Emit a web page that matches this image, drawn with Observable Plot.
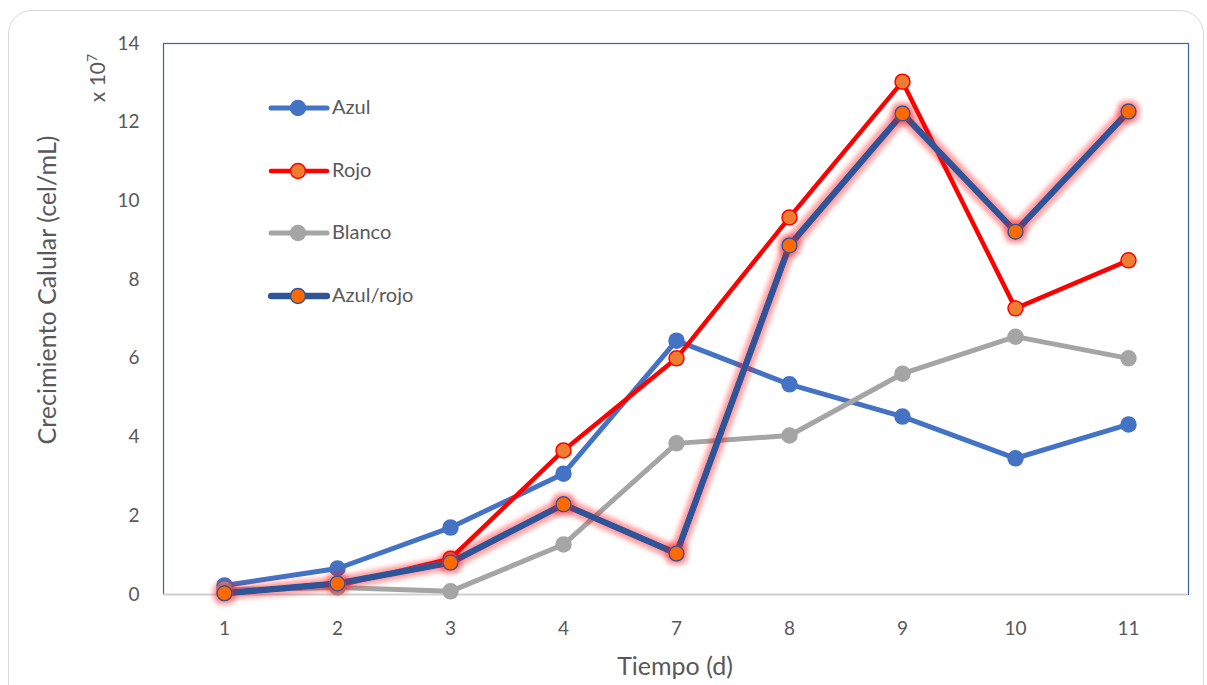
<!DOCTYPE html>
<html><head><meta charset="utf-8">
<script src="https://cdn.jsdelivr.net/npm/d3@7"></script>
<script src="https://cdn.jsdelivr.net/npm/@observablehq/plot@0.6"></script>
<style>
body{margin:0;background:#fff;font-family:Lato,"Open Sans",sans-serif;}
#wrap{position:relative;width:1207px;height:685px;overflow:hidden;}
#border{position:absolute;left:8px;top:10px;width:1196px;height:700px;border:1.5px solid #d9d9d9;border-radius:24px;box-sizing:border-box;}
.rot{position:absolute;transform:translate(-50%,-50%) rotate(-90deg);color:#595959;white-space:nowrap;}
#exp{left:96px;top:78px;font-size:21px;}
#ytitle{left:46px;top:290px;font-size:25px;}
#xtitle{position:absolute;left:675px;top:665px;transform:translate(-50%,-50%);font-size:25px;color:#595959;white-space:nowrap;}
#legend{position:absolute;left:268px;top:93px;}
.li{height:62.5px;display:flex;align-items:flex-start;font-size:20px;color:#595959;}
.li svg{margin-top:2px}
.li span{margin-left:2px;line-height:24px;margin-top:1px}
</style></head>
<body><div id="wrap"><div id="border"></div></div>
<script>
const days = ["1","2","3","4","7","8","9","10","11"];
const azul = [0.23,0.66,1.70,3.07,6.45,5.34,4.52,3.46,4.32];
const rojo = [0.05,0.22,0.91,3.66,6.0,9.58,13.03,7.27,8.49];
const blanco = [0.12,0.18,0.08,1.27,3.84,4.04,5.61,6.55,6.0];
const azulRojo = [0.03,0.28,0.81,2.29,1.04,8.87,12.22,9.22,12.27];
const seriesNames = ["Azul","Rojo","Blanco","Azul/rojo"];
const yTicks = [0,2,4,6,8,10,12,14];
const xTitle = "Tiempo (d)";
const yTitle = "Crecimiento Calular (cel/mL)";

const styles = {
  "Azul": {stroke:"#4472C4", width:5, fill:"#4472C4", mstroke:"#4472C4", r:7.5},
  "Rojo": {stroke:"#FF0000", width:4.5, fill:"#ED7D31", mstroke:"#FF0000", r:7.5},
  "Blanco": {stroke:"#A5A5A5", width:5, fill:"#A5A5A5", mstroke:"#A5A5A5", r:7.5},
  "Azul/rojo": {stroke:"#2F5597", width:6.5, fill:"#FF6A00", mstroke:"#2F5597", r:7.5}
};
const values = {"Azul":azul,"Rojo":rojo,"Blanco":blanco,"Azul/rojo":azulRojo};

const marks = [
  Plot.frame({stroke:"#3A62AC", strokeWidth:1.2}),
  Plot.ruleY([0], {stroke:"#D0D0D0", strokeWidth:1.5}),
];
for (const s of seriesNames) {
  const st = styles[s];
  const data = days.map((d,i)=>({day:d, v:values[s][i]}));
  marks.push(Plot.line(data, {x:"day", y:"v", stroke:st.stroke, strokeWidth:st.width}));
  marks.push(Plot.dot(data, {x:"day", y:"v", r:st.r, fill:st.fill, stroke:st.mstroke, strokeWidth:1.5}));
}

const chart = Plot.plot({
  width:1207, height:685,
  marginLeft:163, marginRight:19, marginTop:43, marginBottom:91,
  style:{fontFamily:"Lato, 'Open Sans', sans-serif", fontSize:"19px", color:"#595959", background:"transparent", overflow:"visible"},
  x:{type:"point", domain:days, padding:0.5},
  y:{domain:[0,14]},
  marks:[
    ...marks,
    Plot.axisX({tickSize:0, tickPadding:27, label:null, fontSize:19}),
    Plot.axisY(yTicks, {tickSize:0, tickPadding:24, label:null, fontSize:19})
  ]
});
chart.style.position="absolute"; chart.style.left="0"; chart.style.top="0";
document.getElementById("wrap").appendChild(chart);

// glow filter for Azul/rojo
const defs = d3.select(chart).insert("defs", ":first-child");
const f = defs.append("filter").attr("id","redglow").attr("x","-20%").attr("y","-20%").attr("width","140%").attr("height","140%");
f.append("feMorphology").attr("in","SourceAlpha").attr("operator","dilate").attr("radius",3).attr("result","d");
f.append("feFlood").attr("flood-color","#FF0000").attr("flood-opacity",0.4).attr("result","c");
f.append("feComposite").attr("in","c").attr("in2","d").attr("operator","in").attr("result","cd");
f.append("feGaussianBlur").attr("in","cd").attr("stdDeviation",2.5).attr("result","b");
const m = f.append("feMerge");
m.append("feMergeNode").attr("in","b");
m.append("feMergeNode").attr("in","SourceGraphic");
const lines = d3.select(chart).selectAll('g[aria-label="line"]').nodes();
const dots = d3.select(chart).selectAll('g[aria-label="dot"]').nodes();
if (lines.length) d3.select(lines[lines.length-1]).attr("filter","url(#redglow)");
if (dots.length) d3.select(dots[dots.length-1]).attr("filter","url(#redglow)");

const wrap = document.getElementById("wrap");
// exponent label
const exp = document.createElement("div");
exp.id="exp"; exp.className="rot"; exp.innerHTML = "x 10<sup style='font-size:14px'>7</sup>";
wrap.appendChild(exp);
// axis titles
const yt = document.createElement("div"); yt.id="ytitle"; yt.className="rot"; yt.textContent=yTitle; wrap.appendChild(yt);
const xt = document.createElement("div"); xt.id="xtitle"; xt.textContent=xTitle; wrap.appendChild(xt);

// legend
const lg = document.createElement("div"); lg.id="legend";
for (const s of seriesNames) {
  const st = styles[s];
  const row = document.createElement("div"); row.className="li";
  const sv = d3.create("svg").attr("width",62).attr("height",26);
  sv.append("line").attr("x1",3).attr("x2",59).attr("y1",13).attr("y2",13).attr("stroke",st.stroke).attr("stroke-width",st.width).attr("stroke-linecap","round");
  sv.append("circle").attr("cx",30).attr("cy",13).attr("r",st.r).attr("fill",st.fill).attr("stroke",st.mstroke).attr("stroke-width",1.5);
  row.appendChild(sv.node());
  const t = document.createElement("span"); t.textContent = s; row.appendChild(t);
  lg.appendChild(row);
}
wrap.appendChild(lg);
</script></body></html>
